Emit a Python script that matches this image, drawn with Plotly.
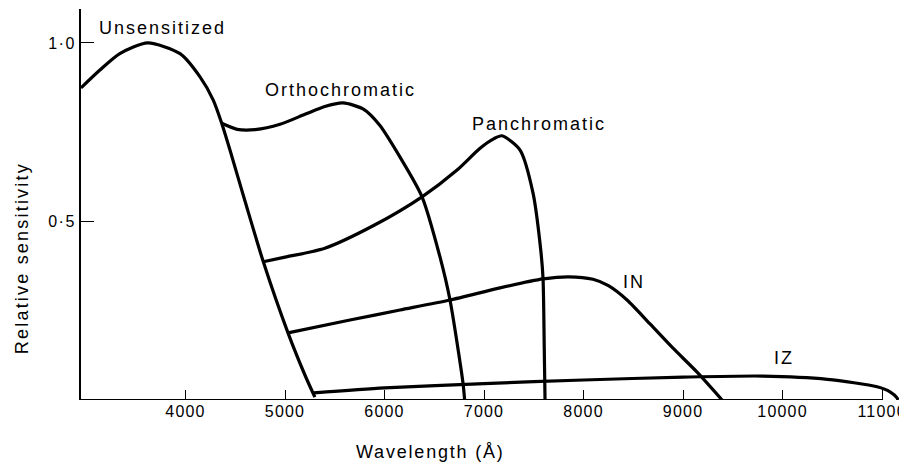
import plotly.graph_objects as go

# ---- data ----
unsens_x = [2950, 3140, 3340, 3620, 3945, 4146, 4279, 4364, 4447, 4600, 4782, 5030, 5200, 5300]
unsens_y = [0.874, 0.924, 0.970, 1.000, 0.970, 0.905, 0.840, 0.775, 0.700, 0.555, 0.387, 0.188, 0.070, 0.008]

ortho_x = [4364, 4520, 4700, 4950, 5200, 5400, 5583, 5784, 5950, 6156, 6377, 6558, 6658, 6789, 6805]
ortho_y = [0.775, 0.758, 0.757, 0.772, 0.800, 0.822, 0.832, 0.815, 0.770, 0.680, 0.569, 0.400, 0.280, 0.047, 0.0]

panchro_x = [4782, 5000, 5400, 5900, 6377, 6729, 6960, 7100, 7181, 7362, 7492, 7570, 7593, 7605, 7613]
panchro_y = [0.387, 0.400, 0.425, 0.490, 0.569, 0.644, 0.705, 0.732, 0.740, 0.700, 0.580, 0.420, 0.340, 0.150, 0.0]

in_x = [5030, 5653, 6156, 6658, 7161, 7593, 7850, 8095, 8250, 8437, 8668, 8899, 9141, 9392]
in_y = [0.188, 0.224, 0.252, 0.280, 0.314, 0.339, 0.345, 0.338, 0.320, 0.280, 0.213, 0.145, 0.078, 0.0]

iz_x = [5290, 6000, 7000, 8000, 9000, 9800, 10450, 10950, 11080, 11150, 11160]
iz_y = [0.020, 0.034, 0.046, 0.056, 0.064, 0.067, 0.058, 0.037, 0.023, 0.006, 0.0]

x_tick_vals = [4000, 5000, 6000, 7000, 8000, 9000, 10000, 11000]
x_tick_text = ["4000", "5000", "6000", "7000", "8000", "9000", "10000", "11000"]
y_tick_vals = [0.5, 1.0]
y_tick_text = ["0\u00b75", "1\u00b70"]

x_range = [2950, 11170]
y_range = [0, 1.095]
x_line_end = 11000

curve_labels = [
    ("Unsensitized", 3111, 1.042, "left"),
    ("Orthochromatic", 5553, 0.868, "center"),
    ("Panchromatic", 7553, 0.773, "center"),
    ("IN", 8508, 0.330, "center"),
    ("IZ", 10015, 0.118, "center"),
]

FONT = "Liberation Sans, Arial, sans-serif"


def spaced(t, sp=2):
    return "<span style='letter-spacing:%spx'>%s</span>" % (sp, t)


fig = go.Figure()
for xs, ys in [(unsens_x, unsens_y), (ortho_x, ortho_y), (panchro_x, panchro_y),
               (in_x, in_y), (iz_x, iz_y)]:
    fig.add_trace(go.Scatter(x=xs, y=ys, mode="lines",
                             line=dict(color="black", width=3.2, shape="spline", smoothing=0.7),
                             hoverinfo="skip", showlegend=False, cliponaxis=False))

annotations = []
for text, x, y, anchor in curve_labels:
    annotations.append(dict(x=x, y=y, xref="x", yref="y", text=spaced(text, 2),
                            showarrow=False, xanchor=anchor, yanchor="middle",
                            font=dict(family=FONT, size=18, color="black")))
annotations.append(dict(x=-0.072, y=0.363, xref="paper", yref="paper",
                        text=spaced("Relative sensitivity", 2.2), textangle=-90,
                        showarrow=False, xanchor="center", yanchor="middle",
                        font=dict(family=FONT, size=18, color="black")))
annotations.append(dict(x=0.427, y=-0.133, xref="paper", yref="paper",
                        text=spaced("Wavelength (\u00c5)", 1.8),
                        showarrow=False, xanchor="center", yanchor="middle",
                        font=dict(family=FONT, size=18, color="black")))

# page body has an 8px default margin, so the figure is drawn 8px smaller
fig.update_layout(
    width=899, height=458,
    margin=dict(l=73, r=8, t=1, b=66, autoexpand=False),
    paper_bgcolor="white", plot_bgcolor="white",
    annotations=annotations,
    shapes=[dict(type="line", xref="x", yref="y", x0=x_range[0], x1=x_line_end, y0=0, y1=0,
                 line=dict(color="black", width=2))],
    xaxis=dict(range=x_range, showgrid=False, zeroline=False, showline=False,
               ticks="inside", ticklen=10, tickwidth=1.3, tickcolor="black",
               tickvals=x_tick_vals, ticktext=[spaced(t, 1.2) for t in x_tick_text],
               ticklabeloverflow="allow",
               tickfont=dict(family=FONT, size=16, color="black")),
    yaxis=dict(range=y_range, showgrid=False, zeroline=False, showline=True,
               linecolor="black", linewidth=2,
               ticks="inside", ticklen=13, tickwidth=1.3, tickcolor="black",
               tickvals=y_tick_vals, ticktext=[spaced(t, 1.5) for t in y_tick_text],
               tickfont=dict(family=FONT, size=16, color="black")),
)

fig.write_html("out.html")
